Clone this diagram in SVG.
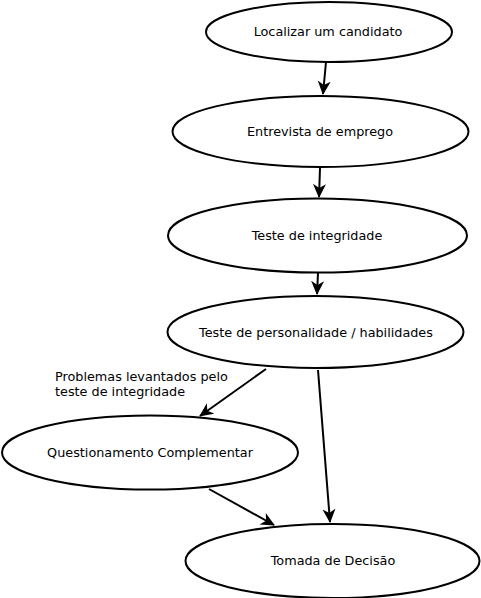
<svg xmlns="http://www.w3.org/2000/svg" width="481" height="598" viewBox="0 0 481 598">
<style>
.n{fill:#fff;stroke:#000;stroke-width:2}
.t{font-family:"DejaVu Sans",sans-serif;font-size:12.8px;fill:#000;text-anchor:middle}
.l{font-family:"DejaVu Sans",sans-serif;font-size:12.8px;fill:#000}
.c{stroke:#000;stroke-width:2;fill:none;marker-end:url(#ah)}
</style>
<defs>
<marker id="ah" viewBox="0 0 14 14" refX="13" refY="7" markerWidth="14" markerHeight="14" markerUnits="userSpaceOnUse" orient="auto">
<path d="M0,0.5 L14,7 L0,13.5 L4,7 Z" fill="#000"/>
</marker>
</defs>
<rect width="481" height="598" fill="#fff"/>
<g id="connectors">
<line class="c" x1="326" y1="62" x2="323" y2="94"/>
<line class="c" x1="320" y1="168" x2="319" y2="197"/>
<line class="c" x1="318" y1="273" x2="317" y2="294"/>
<line class="c" x1="266" y1="369" x2="200" y2="416"/>
<line class="c" x1="318" y1="370" x2="330" y2="522"/>
<line class="c" x1="209" y1="489" x2="274" y2="525"/>
<text class="l" x="55" y="381">Problemas levantados pelo</text>
<text class="l" x="55" y="396">teste de integridade</text>
</g>
<g id="n1"><ellipse class="n" cx="329" cy="32" rx="123" ry="30"/><text class="t" x="328" y="36">Localizar um candidato</text></g>
<g id="n2"><ellipse class="n" cx="320.5" cy="131.5" rx="148" ry="35.5"/><text class="t" x="320" y="136">Entrevista de emprego</text></g>
<g id="n3"><ellipse class="n" cx="317.5" cy="235.5" rx="149.5" ry="37"/><text class="t" x="317" y="240">Teste de integridade</text></g>
<g id="n4"><ellipse class="n" cx="315.5" cy="332" rx="148" ry="36"/><text class="t" x="316" y="337">Teste de personalidade / habilidades</text></g>
<g id="n5"><ellipse class="n" cx="150" cy="452.5" rx="148" ry="37"/><text class="t" x="150" y="457">Questionamento Complementar</text></g>
<g id="n6"><ellipse class="n" cx="332.5" cy="561" rx="147" ry="37"/><text class="t" x="333" y="565">Tomada de Decisão</text></g>
</svg>
